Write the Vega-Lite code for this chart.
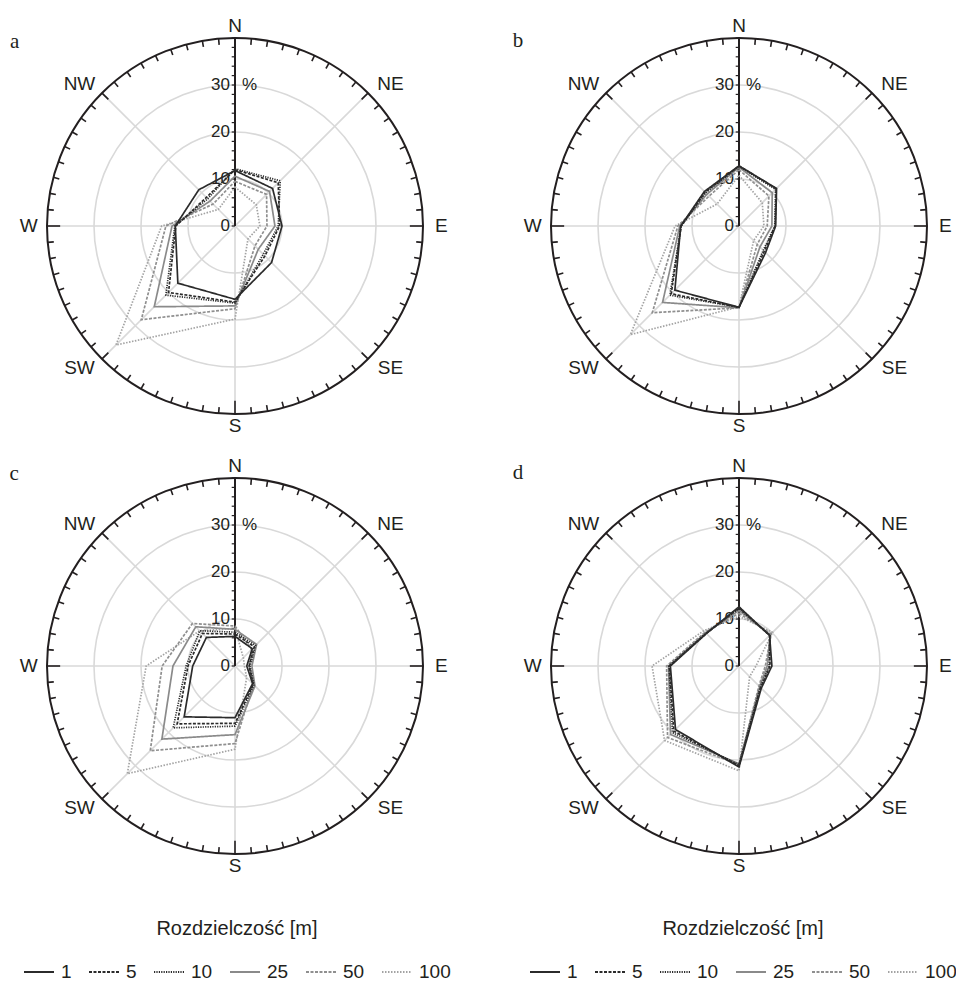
{
  "$schema": "https://vega.github.io/schema/vega-lite/v6.json",
  "padding": {"top": 6, "left": 0, "right": 0, "bottom": 0},
  "background": "white",
  "config": {
    "view": {"stroke": null},
    "font": "Liberation Sans",
    "legend": {
      "labelFont": "Liberation Sans",
      "titleFont": "Liberation Sans",
      "labelFontSize": 19,
      "titleFontSize": 20,
      "titleFontWeight": "normal",
      "labelColor": "#231f20",
      "titleColor": "#231f20"
    }
  },
  "datasets": {
    "rings": [{"ring": 10}, {"ring": 20}, {"ring": 30}],
    "compass": [
      {"lab": "N", "deg": 0}, {"lab": "NE", "deg": 45}, {"lab": "E", "deg": 90}, {"lab": "SE", "deg": 135},
      {"lab": "S", "deg": 180}, {"lab": "SW", "deg": 225}, {"lab": "W", "deg": 270}, {"lab": "NW", "deg": 315}
    ],
    "ticks": [
      {"deg": 0}, {"deg": 5}, {"deg": 10}, {"deg": 15}, {"deg": 20}, {"deg": 25}, {"deg": 30}, {"deg": 35}, {"deg": 40}, {"deg": 45},
      {"deg": 50}, {"deg": 55}, {"deg": 60}, {"deg": 65}, {"deg": 70}, {"deg": 75}, {"deg": 80}, {"deg": 85}, {"deg": 90}, {"deg": 95},
      {"deg": 100}, {"deg": 105}, {"deg": 110}, {"deg": 115}, {"deg": 120}, {"deg": 125}, {"deg": 130}, {"deg": 135}, {"deg": 140}, {"deg": 145},
      {"deg": 150}, {"deg": 155}, {"deg": 160}, {"deg": 165}, {"deg": 170}, {"deg": 175}, {"deg": 180}, {"deg": 185}, {"deg": 190}, {"deg": 195},
      {"deg": 200}, {"deg": 205}, {"deg": 210}, {"deg": 215}, {"deg": 220}, {"deg": 225}, {"deg": 230}, {"deg": 235}, {"deg": 240}, {"deg": 245},
      {"deg": 250}, {"deg": 255}, {"deg": 260}, {"deg": 265}, {"deg": 270}, {"deg": 275}, {"deg": 280}, {"deg": 285}, {"deg": 290}, {"deg": 295},
      {"deg": 300}, {"deg": 305}, {"deg": 310}, {"deg": 315}, {"deg": 320}, {"deg": 325}, {"deg": 330}, {"deg": 335}, {"deg": 340}, {"deg": 345},
      {"deg": 350}, {"deg": 355}
    ],
    "aticks": [
      {"p": 0}, {"p": 2}, {"p": 4}, {"p": 6}, {"p": 8}, {"p": 10}, {"p": 12}, {"p": 14}, {"p": 16}, {"p": 18}, {"p": 20},
      {"p": 22}, {"p": 24}, {"p": 26}, {"p": 28}, {"p": 30}, {"p": 32}, {"p": 34}, {"p": 36}, {"p": 38}, {"p": 40}
    ],
    "rlabels": [{"t": 0}, {"t": 10}, {"t": 20}, {"t": 30}],
    "one": [{"n": 1}],
    "a": [
      {"res": 100, "N": 8.3, "NE": 6.4, "E": 5.3, "SE": 3.9, "S": 19.8, "SW": 35.8, "W": 15.6, "NW": 5.0},
      {"res": 50, "N": 9.5, "NE": 9.5, "E": 6.8, "SE": 6.0, "S": 17.6, "SW": 28.2, "W": 14.7, "NW": 6.6},
      {"res": 25, "N": 10.6, "NE": 10.4, "E": 8.5, "SE": 7.0, "S": 17.0, "SW": 24.3, "W": 13.4, "NW": 7.5},
      {"res": 10, "N": 12.2, "NE": 13.6, "E": 9.2, "SE": 8.5, "S": 16.4, "SW": 20.8, "W": 12.8, "NW": 8.2},
      {"res": 5, "N": 12.0, "NE": 13.0, "E": 9.5, "SE": 9.0, "S": 16.2, "SW": 20.0, "W": 12.6, "NW": 8.6},
      {"res": 1, "N": 11.8, "NE": 11.3, "E": 10.0, "SE": 11.0, "S": 15.6, "SW": 17.2, "W": 12.7, "NW": 10.9}
    ],
    "b": [
      {"res": 100, "N": 10.8, "NE": 7.0, "E": 5.3, "SE": 4.4, "S": 17.2, "SW": 32.7, "W": 13.6, "NW": 6.6},
      {"res": 50, "N": 12.0, "NE": 9.0, "E": 6.0, "SE": 5.5, "S": 17.4, "SW": 26.1, "W": 13.0, "NW": 9.0},
      {"res": 25, "N": 12.5, "NE": 10.0, "E": 7.0, "SE": 6.3, "S": 17.4, "SW": 23.0, "W": 12.6, "NW": 9.6},
      {"res": 10, "N": 12.7, "NE": 11.0, "E": 7.6, "SE": 7.3, "S": 17.3, "SW": 20.8, "W": 12.3, "NW": 10.0},
      {"res": 5, "N": 12.8, "NE": 11.2, "E": 7.7, "SE": 7.6, "S": 17.3, "SW": 20.4, "W": 12.3, "NW": 10.2},
      {"res": 1, "N": 12.8, "NE": 11.3, "E": 7.8, "SE": 8.0, "S": 17.3, "SW": 19.3, "W": 12.4, "NW": 10.4}
    ],
    "c": [
      {"res": 100, "N": 8.0, "NE": 2.5, "E": 2.0, "SE": 3.5, "S": 17.7, "SW": 32.4, "W": 18.9, "NW": 10.6},
      {"res": 50, "N": 8.5, "NE": 5.0, "E": 3.0, "SE": 5.5, "S": 16.5, "SW": 25.5, "W": 15.5, "NW": 12.8},
      {"res": 25, "N": 7.8, "NE": 6.5, "E": 3.6, "SE": 6.0, "S": 14.6, "SW": 22.0, "W": 13.2, "NW": 11.8},
      {"res": 10, "N": 7.2, "NE": 6.2, "E": 3.2, "SE": 5.7, "S": 12.8, "SW": 18.6, "W": 10.4, "NW": 10.6},
      {"res": 5, "N": 6.8, "NE": 5.8, "E": 3.0, "SE": 5.5, "S": 12.2, "SW": 17.4, "W": 10.0, "NW": 9.8},
      {"res": 1, "N": 6.3, "NE": 5.2, "E": 2.5, "SE": 5.3, "S": 11.0, "SW": 15.3, "W": 9.0, "NW": 8.6}
    ],
    "d": [
      {"res": 100, "N": 10.6, "NE": 10.1, "E": 3.6, "SE": 3.2, "S": 22.3, "SW": 22.4, "W": 18.5, "NW": 10.6},
      {"res": 50, "N": 11.2, "NE": 9.7, "E": 5.6, "SE": 6.0, "S": 21.0, "SW": 21.5, "W": 15.4, "NW": 10.2},
      {"res": 25, "N": 11.8, "NE": 9.4, "E": 6.0, "SE": 6.2, "S": 20.8, "SW": 20.6, "W": 15.0, "NW": 10.0},
      {"res": 10, "N": 12.2, "NE": 9.3, "E": 6.4, "SE": 6.4, "S": 21.0, "SW": 20.0, "W": 14.9, "NW": 9.9},
      {"res": 5, "N": 12.4, "NE": 9.2, "E": 6.6, "SE": 6.5, "S": 21.2, "SW": 19.6, "W": 14.8, "NW": 9.8},
      {"res": 1, "N": 12.6, "NE": 9.2, "E": 7.0, "SE": 6.7, "S": 21.5, "SW": 19.1, "W": 14.6, "NW": 9.8}
    ]
  },
  "columns": 2,
  "spacing": {"row": 0, "column": 34},
  "bounds": "flush",
  "resolve": {
    "scale": {"color": "independent", "strokeDash": "independent"},
    "legend": {"color": "independent", "strokeDash": "independent"}
  },
  "concat": [
    {
      "width": 470, "height": 440,
      "encoding": {
        "x": {"field": "x", "type": "quantitative", "scale": {"domain": [-50, 50], "nice": false, "zero": false}, "axis": null},
        "y": {"field": "y", "type": "quantitative", "scale": {"domain": [-46.81, 46.81], "nice": false, "zero": false}, "axis": null}
      },
      "layer": [
        {"data": {"name": "rings"}, "transform": [{"calculate": "0", "as": "x"}, {"calculate": "0", "as": "y"}],
         "mark": {"type": "point", "shape": "circle", "filled": false, "stroke": "#d9d9d9", "strokeWidth": 1.6, "opacity": 1},
         "encoding": {"size": {"field": "ring", "type": "quantitative", "scale": {"type": "pow", "exponent": 2, "domain": [0, 40], "range": [0, 141376]}, "legend": null}}},
        {"data": {"name": "compass"}, "transform": [{"calculate": "0", "as": "x"}, {"calculate": "0", "as": "y"}, {"calculate": "40*sin(datum.deg*PI/180)", "as": "ex"}, {"calculate": "40*cos(datum.deg*PI/180)", "as": "ey"}],
         "mark": {"type": "rule", "stroke": "#d9d9d9", "strokeWidth": 1.6},
         "encoding": {"x2": {"field": "ex"}, "y2": {"field": "ey"}}},
        {"data": {"name": "one"}, "transform": [{"calculate": "0", "as": "x"}, {"calculate": "0", "as": "y"}],
         "mark": {"type": "point", "shape": "circle", "filled": false, "stroke": "#231f20", "strokeWidth": 2, "opacity": 1, "size": 141376}},
        {"data": {"name": "ticks"}, "transform": [
            {"calculate": "datum.deg % 90 == 0 ? 37.2 : (datum.deg % 45 == 0 ? 38.1 : 38.7)", "as": "r1"},
            {"calculate": "40*sin(datum.deg*PI/180)", "as": "x"}, {"calculate": "40*cos(datum.deg*PI/180)", "as": "y"},
            {"calculate": "datum.r1*sin(datum.deg*PI/180)", "as": "x2"}, {"calculate": "datum.r1*cos(datum.deg*PI/180)", "as": "y2"}],
         "mark": {"type": "rule", "stroke": "#231f20", "strokeWidth": 1.6},
         "encoding": {"x2": {"field": "x2"}, "y2": {"field": "y2"}}},
        {"data": {"name": "one"}, "transform": [{"calculate": "0", "as": "x"}, {"calculate": "0", "as": "y"}, {"calculate": "40", "as": "y2"}],
         "mark": {"type": "rule", "stroke": "#231f20", "strokeWidth": 2},
         "encoding": {"y2": {"field": "y2"}}},
        {"data": {"name": "aticks"}, "transform": [{"calculate": "-0.7", "as": "x"}, {"calculate": "0", "as": "x2"}, {"calculate": "datum.p", "as": "y"}],
         "mark": {"type": "rule", "stroke": "#231f20", "strokeWidth": 1.2},
         "encoding": {"x2": {"field": "x2"}}},
        {"data": {"name": "rlabels"}, "transform": [{"calculate": "0", "as": "x"}, {"calculate": "datum.t", "as": "y"}],
         "mark": {"type": "text", "align": "right", "baseline": "middle", "dx": -5, "fontSize": 17, "color": "#231f20"},
         "encoding": {"text": {"field": "t"}}},
        {"data": {"name": "one"}, "transform": [{"calculate": "0", "as": "x"}, {"calculate": "30", "as": "y"}],
         "mark": {"type": "text", "align": "left", "baseline": "middle", "dx": 7, "fontSize": 17, "color": "#231f20", "text": "%"}},
        {"data": {"name": "compass"}, "transform": [
            {"calculate": "(datum.deg % 90 == 0 ? 43.9 : 46.8)*sin(datum.deg*PI/180)", "as": "x"},
            {"calculate": "(datum.deg % 90 == 0 ? 42.5 : 42.8)*cos(datum.deg*PI/180)", "as": "y"}],
         "mark": {"type": "text", "align": "center", "baseline": "middle", "fontSize": 19, "color": "#231f20"},
         "encoding": {"text": {"field": "lab"}}},
        {"data": {"name": "one"}, "transform": [{"calculate": "-46.9", "as": "x"}, {"calculate": "39.1", "as": "y"}],
         "mark": {"type": "text", "align": "center", "baseline": "middle", "fontSize": 21, "font": "Liberation Serif", "color": "#231f20", "text": "a"}},
        {"data": {"name": "a"}, "transform": [
            {"fold": ["N", "NE", "E", "SE", "S", "SW", "W", "NW"], "as": ["dir", "v"]},
            {"calculate": "indexof(['N','NE','E','SE','S','SW','W','NW'], datum.dir)", "as": "k"},
            {"calculate": "datum.v*sin(datum.k*PI/4)", "as": "x"},
            {"calculate": "datum.v*cos(datum.k*PI/4)", "as": "y"}],
         "mark": {"type": "line", "interpolate": "linear-closed", "strokeWidth": 1.7},
         "encoding": {
           "order": {"field": "k", "type": "quantitative"},
           "color": {"field": "res", "type": "ordinal", "scale": {"domain": [1, 5, 10, 25, 50, 100], "range": ["#2b2b2b", "#2b2b2b", "#2b2b2b", "#8a8a8a", "#8f8f8f", "#a3a3a3"]}, "legend": null},
           "strokeDash": {"field": "res", "type": "ordinal", "scale": {"domain": [1, 5, 10, 25, 50, 100], "range": [[1, 0], [3, 1.5], [1.2, 1.2], [1, 0], [3, 1.5], [1.5, 1.5]]}, "legend": null}
         }}
      ]
    },
    {
      "width": 470, "height": 440,
      "encoding": {
        "x": {"field": "x", "type": "quantitative", "scale": {"domain": [-50, 50], "nice": false, "zero": false}, "axis": null},
        "y": {"field": "y", "type": "quantitative", "scale": {"domain": [-46.81, 46.81], "nice": false, "zero": false}, "axis": null}
      },
      "layer": [
        {"data": {"name": "rings"}, "transform": [{"calculate": "0", "as": "x"}, {"calculate": "0", "as": "y"}],
         "mark": {"type": "point", "shape": "circle", "filled": false, "stroke": "#d9d9d9", "strokeWidth": 1.6, "opacity": 1},
         "encoding": {"size": {"field": "ring", "type": "quantitative", "scale": {"type": "pow", "exponent": 2, "domain": [0, 40], "range": [0, 141376]}, "legend": null}}},
        {"data": {"name": "compass"}, "transform": [{"calculate": "0", "as": "x"}, {"calculate": "0", "as": "y"}, {"calculate": "40*sin(datum.deg*PI/180)", "as": "ex"}, {"calculate": "40*cos(datum.deg*PI/180)", "as": "ey"}],
         "mark": {"type": "rule", "stroke": "#d9d9d9", "strokeWidth": 1.6},
         "encoding": {"x2": {"field": "ex"}, "y2": {"field": "ey"}}},
        {"data": {"name": "one"}, "transform": [{"calculate": "0", "as": "x"}, {"calculate": "0", "as": "y"}],
         "mark": {"type": "point", "shape": "circle", "filled": false, "stroke": "#231f20", "strokeWidth": 2, "opacity": 1, "size": 141376}},
        {"data": {"name": "ticks"}, "transform": [
            {"calculate": "datum.deg % 90 == 0 ? 37.2 : (datum.deg % 45 == 0 ? 38.1 : 38.7)", "as": "r1"},
            {"calculate": "40*sin(datum.deg*PI/180)", "as": "x"}, {"calculate": "40*cos(datum.deg*PI/180)", "as": "y"},
            {"calculate": "datum.r1*sin(datum.deg*PI/180)", "as": "x2"}, {"calculate": "datum.r1*cos(datum.deg*PI/180)", "as": "y2"}],
         "mark": {"type": "rule", "stroke": "#231f20", "strokeWidth": 1.6},
         "encoding": {"x2": {"field": "x2"}, "y2": {"field": "y2"}}},
        {"data": {"name": "one"}, "transform": [{"calculate": "0", "as": "x"}, {"calculate": "0", "as": "y"}, {"calculate": "40", "as": "y2"}],
         "mark": {"type": "rule", "stroke": "#231f20", "strokeWidth": 2},
         "encoding": {"y2": {"field": "y2"}}},
        {"data": {"name": "aticks"}, "transform": [{"calculate": "-0.7", "as": "x"}, {"calculate": "0", "as": "x2"}, {"calculate": "datum.p", "as": "y"}],
         "mark": {"type": "rule", "stroke": "#231f20", "strokeWidth": 1.2},
         "encoding": {"x2": {"field": "x2"}}},
        {"data": {"name": "rlabels"}, "transform": [{"calculate": "0", "as": "x"}, {"calculate": "datum.t", "as": "y"}],
         "mark": {"type": "text", "align": "right", "baseline": "middle", "dx": -5, "fontSize": 17, "color": "#231f20"},
         "encoding": {"text": {"field": "t"}}},
        {"data": {"name": "one"}, "transform": [{"calculate": "0", "as": "x"}, {"calculate": "30", "as": "y"}],
         "mark": {"type": "text", "align": "left", "baseline": "middle", "dx": 7, "fontSize": 17, "color": "#231f20", "text": "%"}},
        {"data": {"name": "compass"}, "transform": [
            {"calculate": "(datum.deg % 90 == 0 ? 43.9 : 46.8)*sin(datum.deg*PI/180)", "as": "x"},
            {"calculate": "(datum.deg % 90 == 0 ? 42.5 : 42.8)*cos(datum.deg*PI/180)", "as": "y"}],
         "mark": {"type": "text", "align": "center", "baseline": "middle", "fontSize": 19, "color": "#231f20"},
         "encoding": {"text": {"field": "lab"}}},
        {"data": {"name": "one"}, "transform": [{"calculate": "-47.0", "as": "x"}, {"calculate": "39.4", "as": "y"}],
         "mark": {"type": "text", "align": "center", "baseline": "middle", "fontSize": 21, "font": "Liberation Serif", "color": "#231f20", "text": "b"}},
        {"data": {"name": "b"}, "transform": [
            {"fold": ["N", "NE", "E", "SE", "S", "SW", "W", "NW"], "as": ["dir", "v"]},
            {"calculate": "indexof(['N','NE','E','SE','S','SW','W','NW'], datum.dir)", "as": "k"},
            {"calculate": "datum.v*sin(datum.k*PI/4)", "as": "x"},
            {"calculate": "datum.v*cos(datum.k*PI/4)", "as": "y"}],
         "mark": {"type": "line", "interpolate": "linear-closed", "strokeWidth": 1.7},
         "encoding": {
           "order": {"field": "k", "type": "quantitative"},
           "color": {"field": "res", "type": "ordinal", "scale": {"domain": [1, 5, 10, 25, 50, 100], "range": ["#2b2b2b", "#2b2b2b", "#2b2b2b", "#8a8a8a", "#8f8f8f", "#a3a3a3"]}, "legend": null},
           "strokeDash": {"field": "res", "type": "ordinal", "scale": {"domain": [1, 5, 10, 25, 50, 100], "range": [[1, 0], [3, 1.5], [1.2, 1.2], [1, 0], [3, 1.5], [1.5, 1.5]]}, "legend": null}
         }}
      ]
    },
    {
      "width": 470, "height": 440,
      "encoding": {
        "x": {"field": "x", "type": "quantitative", "scale": {"domain": [-50, 50], "nice": false, "zero": false}, "axis": null},
        "y": {"field": "y", "type": "quantitative", "scale": {"domain": [-46.81, 46.81], "nice": false, "zero": false}, "axis": null}
      },
      "layer": [
        {"data": {"name": "rings"}, "transform": [{"calculate": "0", "as": "x"}, {"calculate": "0", "as": "y"}],
         "mark": {"type": "point", "shape": "circle", "filled": false, "stroke": "#d9d9d9", "strokeWidth": 1.6, "opacity": 1},
         "encoding": {"size": {"field": "ring", "type": "quantitative", "scale": {"type": "pow", "exponent": 2, "domain": [0, 40], "range": [0, 141376]}, "legend": null}}},
        {"data": {"name": "compass"}, "transform": [{"calculate": "0", "as": "x"}, {"calculate": "0", "as": "y"}, {"calculate": "40*sin(datum.deg*PI/180)", "as": "ex"}, {"calculate": "40*cos(datum.deg*PI/180)", "as": "ey"}],
         "mark": {"type": "rule", "stroke": "#d9d9d9", "strokeWidth": 1.6},
         "encoding": {"x2": {"field": "ex"}, "y2": {"field": "ey"}}},
        {"data": {"name": "one"}, "transform": [{"calculate": "0", "as": "x"}, {"calculate": "0", "as": "y"}],
         "mark": {"type": "point", "shape": "circle", "filled": false, "stroke": "#231f20", "strokeWidth": 2, "opacity": 1, "size": 141376}},
        {"data": {"name": "ticks"}, "transform": [
            {"calculate": "datum.deg % 90 == 0 ? 37.2 : (datum.deg % 45 == 0 ? 38.1 : 38.7)", "as": "r1"},
            {"calculate": "40*sin(datum.deg*PI/180)", "as": "x"}, {"calculate": "40*cos(datum.deg*PI/180)", "as": "y"},
            {"calculate": "datum.r1*sin(datum.deg*PI/180)", "as": "x2"}, {"calculate": "datum.r1*cos(datum.deg*PI/180)", "as": "y2"}],
         "mark": {"type": "rule", "stroke": "#231f20", "strokeWidth": 1.6},
         "encoding": {"x2": {"field": "x2"}, "y2": {"field": "y2"}}},
        {"data": {"name": "one"}, "transform": [{"calculate": "0", "as": "x"}, {"calculate": "0", "as": "y"}, {"calculate": "40", "as": "y2"}],
         "mark": {"type": "rule", "stroke": "#231f20", "strokeWidth": 2},
         "encoding": {"y2": {"field": "y2"}}},
        {"data": {"name": "aticks"}, "transform": [{"calculate": "-0.7", "as": "x"}, {"calculate": "0", "as": "x2"}, {"calculate": "datum.p", "as": "y"}],
         "mark": {"type": "rule", "stroke": "#231f20", "strokeWidth": 1.2},
         "encoding": {"x2": {"field": "x2"}}},
        {"data": {"name": "rlabels"}, "transform": [{"calculate": "0", "as": "x"}, {"calculate": "datum.t", "as": "y"}],
         "mark": {"type": "text", "align": "right", "baseline": "middle", "dx": -5, "fontSize": 17, "color": "#231f20"},
         "encoding": {"text": {"field": "t"}}},
        {"data": {"name": "one"}, "transform": [{"calculate": "0", "as": "x"}, {"calculate": "30", "as": "y"}],
         "mark": {"type": "text", "align": "left", "baseline": "middle", "dx": 7, "fontSize": 17, "color": "#231f20", "text": "%"}},
        {"data": {"name": "compass"}, "transform": [
            {"calculate": "(datum.deg % 90 == 0 ? 43.9 : 46.8)*sin(datum.deg*PI/180)", "as": "x"},
            {"calculate": "(datum.deg % 90 == 0 ? 42.5 : 42.8)*cos(datum.deg*PI/180)", "as": "y"}],
         "mark": {"type": "text", "align": "center", "baseline": "middle", "fontSize": 19, "color": "#231f20"},
         "encoding": {"text": {"field": "lab"}}},
        {"data": {"name": "one"}, "transform": [{"calculate": "-47.0", "as": "x"}, {"calculate": "40.8", "as": "y"}],
         "mark": {"type": "text", "align": "center", "baseline": "middle", "fontSize": 21, "font": "Liberation Serif", "color": "#231f20", "text": "c"}},
        {"data": {"name": "c"}, "transform": [
            {"fold": ["N", "NE", "E", "SE", "S", "SW", "W", "NW"], "as": ["dir", "v"]},
            {"calculate": "indexof(['N','NE','E','SE','S','SW','W','NW'], datum.dir)", "as": "k"},
            {"calculate": "datum.v*sin(datum.k*PI/4)", "as": "x"},
            {"calculate": "datum.v*cos(datum.k*PI/4)", "as": "y"}],
         "mark": {"type": "line", "interpolate": "linear-closed", "strokeWidth": 1.7},
         "encoding": {
           "order": {"field": "k", "type": "quantitative"},
           "color": {"field": "res", "type": "ordinal", "scale": {"domain": [1, 5, 10, 25, 50, 100], "range": ["#2b2b2b", "#2b2b2b", "#2b2b2b", "#8a8a8a", "#8f8f8f", "#a3a3a3"]},
             "legend": {"orient": "none", "legendX": 23, "legendY": 473, "direction": "horizontal", "title": "Rozdzielczość [m]", "titleAnchor": "middle", "titlePadding": 17, "symbolType": "stroke", "symbolSize": 900, "symbolStrokeWidth": 2, "columnPadding": 13, "labelOffset": 6, "padding": 0}},
           "strokeDash": {"field": "res", "type": "ordinal", "scale": {"domain": [1, 5, 10, 25, 50, 100], "range": [[1, 0], [3, 1.5], [1.2, 1.2], [1, 0], [3, 1.5], [1.5, 1.5]]},
             "legend": {"orient": "none", "legendX": 23, "legendY": 473, "direction": "horizontal", "title": "Rozdzielczość [m]", "titleAnchor": "middle", "titlePadding": 17, "symbolType": "stroke", "symbolSize": 900, "symbolStrokeWidth": 2, "columnPadding": 13, "labelOffset": 6, "padding": 0}}
         }}
      ]
    },
    {
      "width": 470, "height": 440,
      "encoding": {
        "x": {"field": "x", "type": "quantitative", "scale": {"domain": [-50, 50], "nice": false, "zero": false}, "axis": null},
        "y": {"field": "y", "type": "quantitative", "scale": {"domain": [-46.81, 46.81], "nice": false, "zero": false}, "axis": null}
      },
      "layer": [
        {"data": {"name": "rings"}, "transform": [{"calculate": "0", "as": "x"}, {"calculate": "0", "as": "y"}],
         "mark": {"type": "point", "shape": "circle", "filled": false, "stroke": "#d9d9d9", "strokeWidth": 1.6, "opacity": 1},
         "encoding": {"size": {"field": "ring", "type": "quantitative", "scale": {"type": "pow", "exponent": 2, "domain": [0, 40], "range": [0, 141376]}, "legend": null}}},
        {"data": {"name": "compass"}, "transform": [{"calculate": "0", "as": "x"}, {"calculate": "0", "as": "y"}, {"calculate": "40*sin(datum.deg*PI/180)", "as": "ex"}, {"calculate": "40*cos(datum.deg*PI/180)", "as": "ey"}],
         "mark": {"type": "rule", "stroke": "#d9d9d9", "strokeWidth": 1.6},
         "encoding": {"x2": {"field": "ex"}, "y2": {"field": "ey"}}},
        {"data": {"name": "one"}, "transform": [{"calculate": "0", "as": "x"}, {"calculate": "0", "as": "y"}],
         "mark": {"type": "point", "shape": "circle", "filled": false, "stroke": "#231f20", "strokeWidth": 2, "opacity": 1, "size": 141376}},
        {"data": {"name": "ticks"}, "transform": [
            {"calculate": "datum.deg % 90 == 0 ? 37.2 : (datum.deg % 45 == 0 ? 38.1 : 38.7)", "as": "r1"},
            {"calculate": "40*sin(datum.deg*PI/180)", "as": "x"}, {"calculate": "40*cos(datum.deg*PI/180)", "as": "y"},
            {"calculate": "datum.r1*sin(datum.deg*PI/180)", "as": "x2"}, {"calculate": "datum.r1*cos(datum.deg*PI/180)", "as": "y2"}],
         "mark": {"type": "rule", "stroke": "#231f20", "strokeWidth": 1.6},
         "encoding": {"x2": {"field": "x2"}, "y2": {"field": "y2"}}},
        {"data": {"name": "one"}, "transform": [{"calculate": "0", "as": "x"}, {"calculate": "0", "as": "y"}, {"calculate": "40", "as": "y2"}],
         "mark": {"type": "rule", "stroke": "#231f20", "strokeWidth": 2},
         "encoding": {"y2": {"field": "y2"}}},
        {"data": {"name": "aticks"}, "transform": [{"calculate": "-0.7", "as": "x"}, {"calculate": "0", "as": "x2"}, {"calculate": "datum.p", "as": "y"}],
         "mark": {"type": "rule", "stroke": "#231f20", "strokeWidth": 1.2},
         "encoding": {"x2": {"field": "x2"}}},
        {"data": {"name": "rlabels"}, "transform": [{"calculate": "0", "as": "x"}, {"calculate": "datum.t", "as": "y"}],
         "mark": {"type": "text", "align": "right", "baseline": "middle", "dx": -5, "fontSize": 17, "color": "#231f20"},
         "encoding": {"text": {"field": "t"}}},
        {"data": {"name": "one"}, "transform": [{"calculate": "0", "as": "x"}, {"calculate": "30", "as": "y"}],
         "mark": {"type": "text", "align": "left", "baseline": "middle", "dx": 7, "fontSize": 17, "color": "#231f20", "text": "%"}},
        {"data": {"name": "compass"}, "transform": [
            {"calculate": "(datum.deg % 90 == 0 ? 43.9 : 46.8)*sin(datum.deg*PI/180)", "as": "x"},
            {"calculate": "(datum.deg % 90 == 0 ? 42.5 : 42.8)*cos(datum.deg*PI/180)", "as": "y"}],
         "mark": {"type": "text", "align": "center", "baseline": "middle", "fontSize": 19, "color": "#231f20"},
         "encoding": {"text": {"field": "lab"}}},
        {"data": {"name": "one"}, "transform": [{"calculate": "-47.0", "as": "x"}, {"calculate": "41.1", "as": "y"}],
         "mark": {"type": "text", "align": "center", "baseline": "middle", "fontSize": 21, "font": "Liberation Serif", "color": "#231f20", "text": "d"}},
        {"data": {"name": "d"}, "transform": [
            {"fold": ["N", "NE", "E", "SE", "S", "SW", "W", "NW"], "as": ["dir", "v"]},
            {"calculate": "indexof(['N','NE','E','SE','S','SW','W','NW'], datum.dir)", "as": "k"},
            {"calculate": "datum.v*sin(datum.k*PI/4)", "as": "x"},
            {"calculate": "datum.v*cos(datum.k*PI/4)", "as": "y"}],
         "mark": {"type": "line", "interpolate": "linear-closed", "strokeWidth": 1.7},
         "encoding": {
           "order": {"field": "k", "type": "quantitative"},
           "color": {"field": "res", "type": "ordinal", "scale": {"domain": [1, 5, 10, 25, 50, 100], "range": ["#2b2b2b", "#2b2b2b", "#2b2b2b", "#8a8a8a", "#8f8f8f", "#a3a3a3"]},
             "legend": {"orient": "none", "legendX": 25, "legendY": 473, "direction": "horizontal", "title": "Rozdzielczość [m]", "titleAnchor": "middle", "titlePadding": 17, "symbolType": "stroke", "symbolSize": 900, "symbolStrokeWidth": 2, "columnPadding": 13, "labelOffset": 6, "padding": 0}},
           "strokeDash": {"field": "res", "type": "ordinal", "scale": {"domain": [1, 5, 10, 25, 50, 100], "range": [[1, 0], [3, 1.5], [1.2, 1.2], [1, 0], [3, 1.5], [1.5, 1.5]]},
             "legend": {"orient": "none", "legendX": 25, "legendY": 473, "direction": "horizontal", "title": "Rozdzielczość [m]", "titleAnchor": "middle", "titlePadding": 17, "symbolType": "stroke", "symbolSize": 900, "symbolStrokeWidth": 2, "columnPadding": 13, "labelOffset": 6, "padding": 0}}
         }}
      ]
    }
  ]
}
